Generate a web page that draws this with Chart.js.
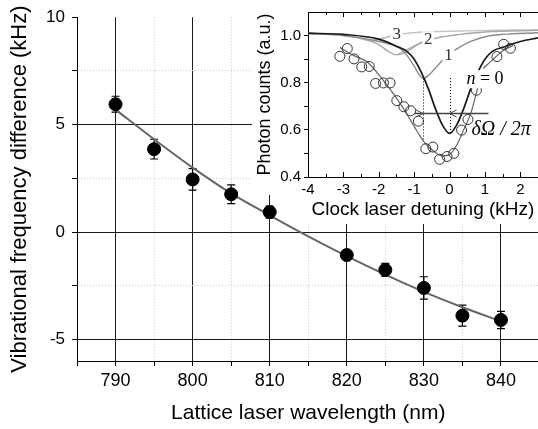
<!DOCTYPE html>
<html lang="en">
<head>
<meta charset="UTF-8">
<title>Vibrational frequency difference vs lattice laser wavelength</title>
<script src="https://cdn.jsdelivr.net/npm/chart.js"></script>
<style>
    body { margin: 0; background: #fff; overflow: hidden; }
    #wrap { position: relative; width: 538px; height: 429px; overflow: hidden; }
    #mainChart { position: absolute; left: 0; top: 0; }
    #insetChart { position: absolute; left: 252px; top: 0; }
</style>
</head>
<body>
<div id="wrap">
    <!-- canvases a bit wider than the window: Chart.js keeps a few px on the right -->
    <canvas id="mainChart" width="547" height="429"></canvas>
    <canvas id="insetChart" width="292" height="224"></canvas>
</div>
<script>
// main plot: measured points
const wavelength = [790, 795, 800, 805, 810, 820, 825, 830, 835, 840];
const freqDiff   = [5.95, 3.86, 2.45, 1.76, 0.93, -1.07, -1.76, -2.6, -3.89, -4.09];
const freqErr    = [0.37, 0.46, 0.5, 0.44, 0.28, 0.1, 0.3, 0.52, 0.49, 0.4];
// main plot: fit curve
const fitWave = [790, 795, 800, 805, 810, 815, 820, 825, 830, 835, 840];
const fitFreq = [5.7, 4.32, 3.0, 1.8, 0.78, -0.2, -1.12, -1.98, -2.78, -3.5, -4.15];
// main plot ticks
const xTicks  = [785, 790, 795, 800, 805, 810, 815, 820, 825, 830, 835, 840, 845];
const xLabels = [790, 800, 810, 820, 830, 840];
const yTicks  = [-5, -2.5, 0, 2.5, 5, 7.5, 10];
const yLabels = [-5, 0, 5, 10];

// inset: photon counts
const detuning = [-3.10, -2.89, -2.70, -2.48, -2.27, -2.09, -1.87, -1.68, -1.49, -1.29, -1.10, -0.88,
                  -0.67, -0.47, -0.28, -0.07, 0.12, 0.34, 0.52, 0.76, 1.34, 1.53, 1.72];
const counts   = [0.912, 0.945, 0.901, 0.867, 0.869, 0.797, 0.799, 0.799, 0.724, 0.698, 0.681, 0.637,
                  0.520, 0.527, 0.475, 0.487, 0.500, 0.599, 0.644, 0.768, 0.911, 0.963, 0.946];
// inset: fit through the counts
const countFitX = [-3.1, -2.7, -2.3, -1.9, -1.5, -1.3, -1.1, -0.9, -0.7, -0.45, -0.2, 0, 0.2, 0.4, 0.6, 0.8];
const countFitY = [0.95, 0.915, 0.885, 0.815, 0.735, 0.69, 0.64, 0.59, 0.545, 0.51, 0.49, 0.495, 0.535, 0.6, 0.67, 0.78];
const countFit2X = [0.95, 1.2, 1.5, 1.8];
const countFit2Y = [0.86, 0.895, 0.935, 0.958];
// inset: sideband curves n = 0..3
const n0X = [-4, -3, -2, -1.5, -1.2, -1, -0.8, -0.6, -0.4, -0.2, 0, 0.2, 0.4, 0.6, 0.8, 1, 1.2, 1.6, 2, 2.5];
const n0Y = [1.01, 1.005, 0.985, 0.955, 0.932, 0.9, 0.845, 0.775, 0.69, 0.62, 0.585, 0.62, 0.69, 0.775, 0.845, 0.9, 0.932, 0.955, 0.975, 0.99];
const n1X = [-4, -3, -2.5, -2, -1.6, -1.4, -1.2, -1.0, -0.85, -0.75, -0.6, -0.4, -0.2, 0, 0.3, 0.6, 1.0, 1.5, 2.5];
const n1Y = [1.01, 1.0, 0.99, 0.975, 0.96, 0.945, 0.915, 0.87, 0.832, 0.818, 0.83, 0.862, 0.895, 0.922, 0.952, 0.975, 0.995, 1.005, 1.012];
const n2X = [-4, -3, -2.5, -2, -1.75, -1.5, -1.25, -1, -0.7, -0.3, 0.3, 1, 2.5];
const n2Y = [1.01, 1.0, 0.988, 0.962, 0.935, 0.918, 0.928, 0.952, 0.975, 0.992, 1.005, 1.015, 1.022];
const n3X = [-4, -3, -2.6, -2.25, -2.0, -1.7, -1.3, -0.5, 0.5, 2.5];
const n3Y = [1.01, 1.0, 0.99, 0.978, 0.982, 0.996, 1.008, 1.016, 1.02, 1.025];
// inset: label leader lines
const lead3X = [-1.68, -2.22], lead3Y = [0.996, 0.979];
const lead2X = [-0.72, -1.45], lead2Y = [0.978, 0.922];
const lead1X = [-0.17, -0.66], lead1Y = [0.9, 0.82];
// inset: curve labels
const labelText = ['3', '2', '1'];
const labelX = [-1.49, -0.6, -0.03];
const labelY = [1.004, 0.984, 0.915];
// inset: width marker (dotted lines + arrows)
const markX = [-0.75, 0];
const markTop = [0.818, 0.82];
const markBottom = [0.56, 0.585];
const arrowY = 0.672, arrowFrom = -1.0, arrowTo = 1.1;
// inset ticks
const insetXTicks = [-4, -3.5, -3, -2.5, -2, -1.5, -1, -0.5, 0, 0.5, 1, 1.5, 2, 2.5];
const insetYTicks = [0.4, 0.5, 0.6, 0.7, 0.8, 0.9, 1.0];

Chart.defaults.font.family = "'Liberation Sans', Arial, sans-serif";
Chart.defaults.color = '#000';

const pts = (xs, ys) => xs.map((v, i) => ({ x: v, y: ys[i] }));

const errorBars = {
    id: 'errorBars',
    beforeDatasetsDraw(chart) {
        const { ctx, scales: { x, y } } = chart;
        ctx.save();
        ctx.strokeStyle = '#000';
        ctx.lineWidth = 1.2;
        wavelength.forEach((w, i) => {
            const px = x.getPixelForValue(w);
            const top = y.getPixelForValue(freqDiff[i] + freqErr[i]);
            const bot = y.getPixelForValue(freqDiff[i] - freqErr[i]);
            ctx.beginPath();
            ctx.moveTo(px, top); ctx.lineTo(px, bot);
            ctx.moveTo(px - 4, top); ctx.lineTo(px + 4, top);
            ctx.moveTo(px - 4, bot); ctx.lineTo(px + 4, bot);
            ctx.stroke();
        });
        ctx.restore();
    }
};

new Chart(document.getElementById('mainChart'), {
    type: 'scatter',
    data: {
        datasets: [
            { data: pts(wavelength, freqDiff), backgroundColor: '#000', borderColor: '#000', pointRadius: 6.5, order: 1 },
            { data: pts(fitWave, fitFreq), showLine: true, borderColor: '#666', borderWidth: 2,
              pointRadius: 0, cubicInterpolationMode: 'monotone', order: 2 }
        ]
    },
    options: {
        responsive: false,
        animation: false,
        events: [],
        layout: { padding: { left: 0, right: 0, top: 17, bottom: 0 } },
        plugins: { legend: { display: false }, tooltip: { enabled: false } },
        scales: {
            x: {
                type: 'linear', min: 785, max: 845,
                afterBuildTicks: s => { s.ticks = xTicks.map(v => ({ value: v })); },
                afterFit: s => { s.height = 68; },
                ticks: { font: { size: 18 }, padding: 4, maxRotation: 0, autoSkip: false,
                         callback: v => xLabels.includes(v) ? String(v) : '' },
                grid: {
                    color: c => {
                        if (!c.tick) return 'rgba(0,0,0,0)';
                        const v = c.tick.value;
                        if (v === 785 || v === 845) return 'rgba(0,0,0,0)';
                        return xLabels.includes(v) ? '#1a1a1a' : '#cccccc';
                    },
                    lineWidth: 1, tickLength: 5, tickColor: '#000'
                },
                border: { color: '#000', width: 1,
                          dash: c => (c.tick && !xLabels.includes(c.tick.value)) ? [1, 2] : [] },
                title: { display: true, text: 'Lattice laser wavelength (nm)', font: { size: 21 },
                         padding: { top: 0, bottom: 3 } }
            },
            y: {
                type: 'linear', min: -6, max: 10,
                afterBuildTicks: s => { s.ticks = yTicks.map(v => ({ value: v })); },
                afterFit: s => { s.width = 77; },
                ticks: { font: { size: 17 }, padding: 7, autoSkip: false,
                         callback: v => yLabels.includes(v) ? String(v) : '' },
                grid: {
                    color: c => {
                        if (!c.tick) return 'rgba(0,0,0,0)';
                        const v = c.tick.value;
                        if (v === 10) return 'rgba(0,0,0,0)';
                        return yLabels.includes(v) ? '#1a1a1a' : '#cccccc';
                    },
                    lineWidth: 1, tickLength: 5, tickColor: '#000'
                },
                border: { color: '#000', width: 1,
                          dash: c => (c.tick && !yLabels.includes(c.tick.value)) ? [1, 2] : [] },
                title: { display: true, text: 'Vibrational frequency difference (kHz)', font: { size: 22 },
                         padding: { top: 7, bottom: 0 } }
            }
        }
    },
    plugins: [errorBars]
});

// inset extras: white backing, inward ticks, top frame, width marker, labels
const insetDecor = {
    id: 'insetDecor',
    beforeDraw(chart) {
        const ctx = chart.ctx;
        ctx.save();
        ctx.fillStyle = '#fff';
        ctx.fillRect(0, 0, chart.width, 195);
        ctx.fillRect(48, 195, chart.width - 48, chart.height - 195);
        ctx.restore();
    },
    afterDatasetsDraw(chart) {
        const { ctx, chartArea: a, scales: { x, y } } = chart;
        ctx.save();
        ctx.strokeStyle = '#000';
        ctx.lineWidth = 1;
        ctx.beginPath();
        ctx.moveTo(a.left, a.top + 0.5); ctx.lineTo(a.right, a.top + 0.5);
        insetXTicks.forEach(v => {
            const px = Math.round(x.getPixelForValue(v)) + 0.5;
            const len = Number.isInteger(v) ? 5 : 3;
            ctx.moveTo(px, a.bottom); ctx.lineTo(px, a.bottom - len);
            ctx.moveTo(px, a.top); ctx.lineTo(px, a.top + len);
        });
        ctx.stroke();

        // dotted verticals
        ctx.setLineDash([1, 2]);
        ctx.beginPath();
        markX.forEach((v, i) => {
            const px = Math.round(x.getPixelForValue(v)) + 0.5;
            ctx.moveTo(px, y.getPixelForValue(markTop[i]));
            ctx.lineTo(px, y.getPixelForValue(markBottom[i]));
        });
        ctx.stroke();
        ctx.setLineDash([]);

        // width arrow
        const ay = Math.round(y.getPixelForValue(arrowY)) + 0.5;
        ctx.strokeStyle = '#444';
        ctx.lineWidth = 1.5;
        ctx.beginPath();
        ctx.moveTo(x.getPixelForValue(arrowFrom), ay);
        ctx.lineTo(x.getPixelForValue(arrowTo), ay);
        ctx.stroke();
        ctx.lineWidth = 1;
        const l = x.getPixelForValue(markX[0]);
        const r = x.getPixelForValue(markX[1]);
        ctx.beginPath();
        ctx.moveTo(l - 7, ay - 3.5); ctx.lineTo(l, ay); ctx.lineTo(l - 7, ay + 3.5);
        ctx.moveTo(r + 7, ay - 3.5); ctx.lineTo(r, ay); ctx.lineTo(r + 7, ay + 3.5);
        ctx.stroke();

        // curve labels with white boxes
        ctx.font = "17px 'Liberation Serif', serif";
        ctx.textAlign = 'center';
        ctx.textBaseline = 'middle';
        labelText.forEach((t, i) => {
            const px = x.getPixelForValue(labelX[i]);
            const py = y.getPixelForValue(labelY[i]);
            ctx.fillStyle = '#fff';
            ctx.fillRect(px - 6, py - 8, 12, 16);
            ctx.fillStyle = '#333';
            ctx.fillText(t, px, py);
        });

        // n = 0
        const nx = x.getPixelForValue(0.45);
        const ny = y.getPixelForValue(0.815);
        ctx.fillStyle = '#fff';
        ctx.fillRect(nx, ny - 9, 40, 18);
        ctx.fillStyle = '#000';
        ctx.textAlign = 'left';
        ctx.font = "italic 18px 'Liberation Serif', serif";
        ctx.fillText('n', nx + 1, ny);
        ctx.font = "18px 'Liberation Serif', serif";
        ctx.fillText(' = 0', nx + 10, ny);

        // delta Omega / 2 pi
        ctx.font = "italic 20px 'Liberation Serif', serif";
        ctx.fillText('δΩ / 2π', x.getPixelForValue(0.62), y.getPixelForValue(0.6));
        ctx.restore();
    }
};

const curve = (xs, ys, color, width) => ({
    data: pts(xs, ys), showLine: true, borderColor: color, borderWidth: width,
    pointRadius: 0, cubicInterpolationMode: 'monotone'
});

new Chart(document.getElementById('insetChart'), {
    type: 'scatter',
    data: {
        datasets: [
            { data: pts(detuning, counts), pointRadius: 5, pointBorderWidth: 1,
              pointBackgroundColor: 'rgba(0,0,0,0)', pointBorderColor: '#333' },
            curve(countFitX, countFitY, '#666', 1.2),
            curve(countFit2X, countFit2Y, '#666', 1.2),
            curve(n0X, n0Y, '#1a1a1a', 1.7),
            curve(n1X, n1Y, '#8c8c8c', 1.4),
            curve(n2X, n2Y, '#a8a8a8', 1.4),
            curve(n3X, n3Y, '#c4c4c4', 1.4),
            curve(lead3X, lead3Y, '#999', 1),
            curve(lead2X, lead2Y, '#999', 1),
            curve(lead1X, lead1Y, '#999', 1)
        ]
    },
    options: {
        responsive: false,
        animation: false,
        events: [],
        layout: { padding: { left: 0, right: 0, top: 7, bottom: 0 } },
        plugins: { legend: { display: false }, tooltip: { enabled: false } },
        scales: {
            x: {
                type: 'linear', min: -4, max: 2.5,
                afterBuildTicks: s => { s.ticks = insetXTicks.map(v => ({ value: v })); },
                afterFit: s => { s.height = 47; },
                ticks: { font: { size: 15 }, padding: 4, maxRotation: 0, autoSkip: false,
                         callback: v => Number.isInteger(v) && v < 2.5 ? String(v) : '' },
                grid: { drawOnChartArea: false, drawTicks: false },
                border: { color: '#000', width: 1 },
                title: { display: true, text: 'Clock laser detuning (kHz)', font: { size: 19 },
                         padding: { top: 0, bottom: 3 } }
            },
            y: {
                type: 'linear', min: 0.4, max: 1.1,
                afterBuildTicks: s => { s.ticks = insetYTicks.map(v => ({ value: v })); },
                afterFit: s => { s.width = 56; },
                ticks: { font: { size: 15 }, padding: 3, autoSkip: false,
                         callback: v => Math.round(v * 10) % 2 === 0 ? v.toFixed(1) : '' },
                grid: { drawOnChartArea: false, tickLength: 4, tickColor: '#000' },
                border: { color: '#000', width: 1 },
                title: { display: true, text: 'Photon counts (a.u.)', font: { size: 18 },
                         padding: { top: 2, bottom: 0 } }
            }
        }
    },
    plugins: [insetDecor]
});
</script>
</body>
</html>
